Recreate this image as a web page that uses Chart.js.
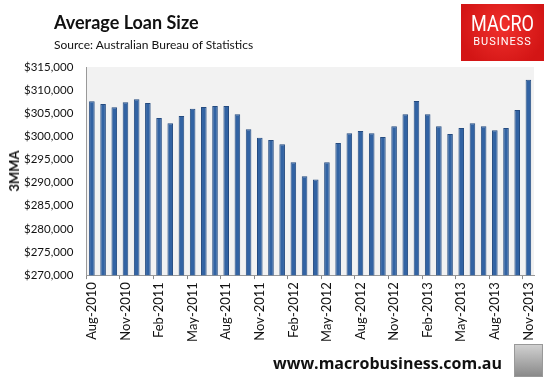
<!DOCTYPE html>
<html>
<head>
<meta charset="utf-8">
<script src="https://cdn.jsdelivr.net/npm/chart.js@4"></script>
<style>
  body { margin: 0; background: #fff; font-family: Lato, "Open Sans", sans-serif; }
  #wrap { position: relative; width: 551px; height: 383px; overflow: hidden; }
  #loanChart { position: absolute; left: 0; top: 0; }
  .title { position: absolute; left: 54px; top: 11px; font-size: 18px; font-weight: bold; color: #111; }
  .source { position: absolute; left: 54px; top: 37px; font-size: 12px; color: #111; }
  .ytitle { position: absolute; left: 14px; top: 171px; transform: translate(-50%, -50%) rotate(-90deg);
            font-size: 13px; font-weight: bold; color: #111; white-space: nowrap; }
  .logo { position: absolute; left: 461px; top: 4px; width: 83px; height: 57px;
          background: radial-gradient(circle at 50% 40%, #f0302c, #d31515 80%); color: #fff; text-align: center; }
  .logo .m { font-size: 22px; margin-top: 9px; font-family: Roboto, sans-serif; line-height: 22px; transform: scaleX(0.82); }
  .logo .b { font-size: 11px; letter-spacing: 1px; font-family: Roboto, sans-serif; line-height: 14px; }
  .footer { position: absolute; left: 273px; top: 352px; font-size: 16px; font-weight: bold; color: #111;
            font-family: "Open Sans", sans-serif; }
  .wolf { position: absolute; left: 514px; top: 344px; width: 27px; height: 31px; border: 1px solid #999;
          background: linear-gradient(#d0d0d0, #8a8a8a); }
</style>
</head>
<body>
<div id="wrap">
  <canvas id="loanChart" width="551" height="383"></canvas>
  <div class="title">Average Loan Size</div>
  <div class="source">Source: Australian Bureau of Statistics</div>
  <div class="ytitle">3MMA</div>
  <div class="logo"><div class="m">MACRO</div><div class="b">BUSINESS</div></div>
  <div class="footer">www.macrobusiness.com.au</div>
  <div class="wolf"></div>
</div>
<script>
const months = [
  "Aug-2010", "Sep-2010", "Oct-2010", "Nov-2010", "Dec-2010",
  "Jan-2011", "Feb-2011", "Mar-2011", "Apr-2011", "May-2011", "Jun-2011", "Jul-2011",
  "Aug-2011", "Sep-2011", "Oct-2011", "Nov-2011", "Dec-2011",
  "Jan-2012", "Feb-2012", "Mar-2012", "Apr-2012", "May-2012", "Jun-2012", "Jul-2012",
  "Aug-2012", "Sep-2012", "Oct-2012", "Nov-2012", "Dec-2012",
  "Jan-2013", "Feb-2013", "Mar-2013", "Apr-2013", "May-2013", "Jun-2013", "Jul-2013",
  "Aug-2013", "Sep-2013", "Oct-2013", "Nov-2013"
];
const loanSize = [
  307600, 307000, 306300, 307400, 308050,
  307200, 303950, 302850, 304400, 305950, 306350, 306550,
  306550, 304800, 301550, 299700, 299200,
  298300, 294400, 291400, 290700, 294400, 298550, 300700,
  301150, 300700, 299850, 302200, 304800,
  307650, 304800, 302200, 300500, 301800, 302850, 302200,
  301350, 301800, 305700, 312250
];
const yMin = 270000, yMax = 315000, yStep = 5000;

// light grey plot background
const plotBg = {
  id: "plotBg",
  beforeDraw(chart) {
    const { ctx, chartArea: a } = chart;
    ctx.save();
    ctx.fillStyle = "#f2f2f2";
    ctx.fillRect(a.left, a.top, a.right - a.left, a.bottom - a.top);
    ctx.restore();
  }
};

new Chart(document.getElementById("loanChart"), {
  type: "bar",
  data: {
    labels: months,
    datasets: [{
      label: "3MMA",
      data: loanSize,
      backgroundColor: "#3263a3",
      borderColor: "#244b80",
      borderWidth: 1,
      barPercentage: 0.5,
      categoryPercentage: 1
    }]
  },
  options: {
    responsive: false,
    animation: false,
    layout: { padding: { left: 11, top: 67, right: 17, bottom: 38 } },
    plugins: { legend: { display: false }, tooltip: { enabled: false } },
    scales: {
      x: {
        grid: {
          offset: true,
          drawOnChartArea: false,
          tickLength: 4,
          color: ctx => ctx.index % 3 === 0 ? "#888" : "rgba(0,0,0,0)"
        },
        border: { color: "#999" },
        ticks: {
          autoSkip: false,
          minRotation: 90,
          maxRotation: 90,
          padding: 3,
          color: "#111",
          font: { family: "Lato", size: 13 },
          callback: (v, i) => i % 3 === 0 ? months[i] : ""
        }
      },
      y: {
        min: yMin,
        max: yMax,
        grid: { display: false, drawTicks: false },
        border: { color: "#999" },
        ticks: {
          stepSize: yStep,
          color: "#111",
          padding: 13,
          font: { family: "Lato", size: 11.5 },
          callback: v => "$" + v.toLocaleString("en-US")
        }
      }
    }
  },
  plugins: [plotBg]
});
</script>
</body>
</html>
